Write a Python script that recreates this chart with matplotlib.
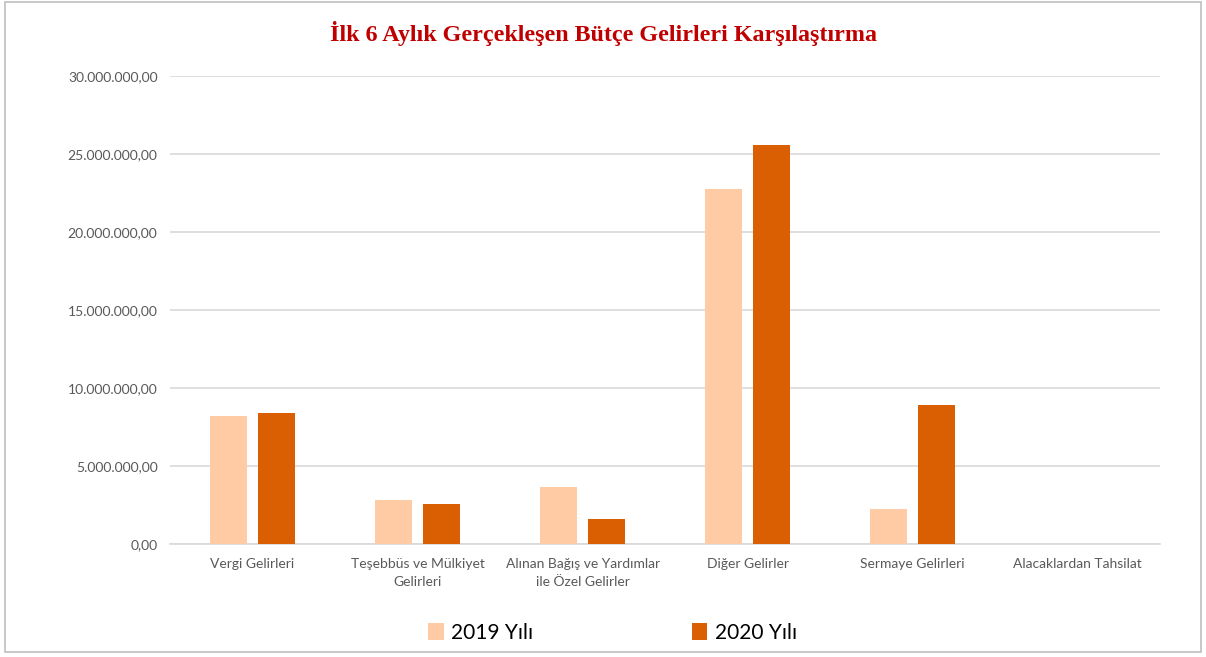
import matplotlib.pyplot as plt
import numpy as np
from matplotlib.patches import Rectangle
from matplotlib.ticker import FuncFormatter

categories = ['Vergi Gelirleri', 'Teşebbüs ve Mülkiyet\nGelirleri', 'Alınan Bağış ve Yardımlar\nile Özel Gelirler',
              'Diğer Gelirler', 'Sermaye Gelirleri', 'Alacaklardan Tahsilat']
y2019 = [8200000, 2820000, 3650000, 22760000, 2240000, 0]
y2020 = [8400000, 2560000, 1600000, 25580000, 8910000, 0]

plt.rcParams['font.family'] = ['Lato', 'DejaVu Sans']

fig = plt.figure(figsize=(12.06, 6.57), dpi=100)
ax = fig.add_axes([0.141, 0.172, 0.821, 0.712])

x = np.arange(len(categories))
w = 0.224
ax.bar(x - 0.145, y2019, w, color='#FFCBA4', label='2019 Yılı', zorder=3)
ax.bar(x + 0.145, y2020, w, color='#D95F02', label='2020 Yılı', zorder=3)

ax.set_xlim(-0.5, len(categories) - 0.5)
ax.set_ylim(0, 30000000)
ax.set_yticks(np.arange(0, 30000001, 5000000))

def tr_fmt(v, pos):
    s = '{:,.2f}'.format(v)
    return s.replace(',', 'X').replace('.', ',').replace('X', '.')

ax.yaxis.set_major_formatter(FuncFormatter(tr_fmt))
ax.set_xticks(x)
ax.set_xticklabels(categories, linespacing=1.6)
ax.tick_params(axis='both', length=0, labelsize=10, colors='#595959', pad=10)
ax.tick_params(axis='y', pad=9)
ax.grid(axis='y', color='#d9d9d9', linewidth=1.2, zorder=0)
for s in ['top', 'right', 'left']:
    ax.spines[s].set_visible(False)
ax.spines['bottom'].set_color('#d9d9d9')
ax.spines['bottom'].set_linewidth(1.2)

fig.suptitle('İlk 6 Aylık Gerçekleşen Bütçe Gelirleri Karşılaştırma', y=0.968,
             fontsize=17.3, fontweight='bold', color='#C00000', family='Liberation Serif')

fig.legend(loc='center', bbox_to_anchor=(0.508, 0.037), ncol=2, frameon=False,
           fontsize=15, handlelength=0.75, handleheight=0.85, columnspacing=7.6,
           handletextpad=0.35)

fig.patches.append(Rectangle((0.004, 0.007), 0.992, 0.99, transform=fig.transFigure,
                             fill=False, edgecolor='#bfbfbf', linewidth=1.2))

fig.savefig('out.png', dpi=100)
